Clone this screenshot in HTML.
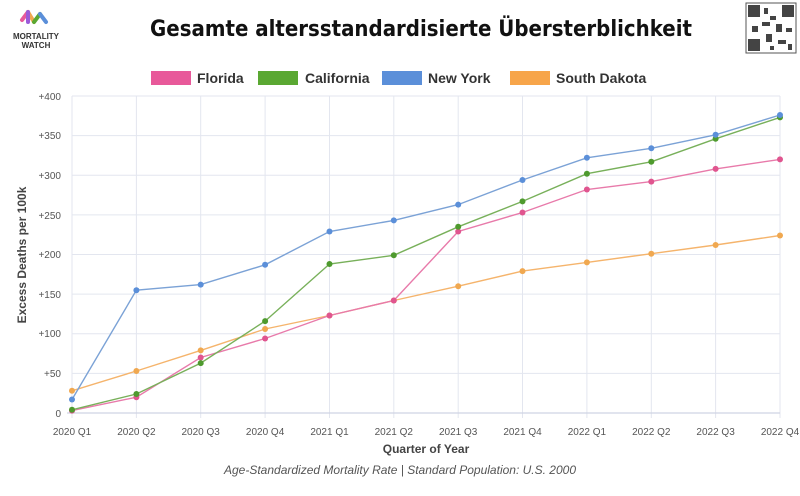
<!DOCTYPE html>
<html><head><meta charset="utf-8"><style>
body{margin:0;width:800px;height:491px;background:#fff;overflow:hidden;font-family:"Liberation Sans",sans-serif}
</style></head><body>
<svg width="800" height="491" xmlns="http://www.w3.org/2000/svg" font-family="Liberation Sans, sans-serif">
<rect width="800" height="491" fill="#fff"/>
<!-- logo -->
<g stroke-width="4" stroke-linecap="round" fill="none">
<path d="M22 20 L28 12" stroke="#e8599a"/><path d="M28 12 L34 22" stroke="#f0a850"/><path d="M34 22 L40 14" stroke="#5aa832"/><path d="M40 14 L46 22" stroke="#5b8fd9"/><path d="M28 12 L28 22" stroke="#9a5ad9"/>
</g>
<text x="36" y="39" font-size="8" font-weight="bold" text-anchor="middle" fill="#333">MORTALITY</text>
<text x="36" y="48" font-size="8" font-weight="bold" text-anchor="middle" fill="#333">WATCH</text>
<text x="421" y="36" font-size="22" font-weight="bold" text-anchor="middle" fill="#111" font-family="DejaVu Sans Condensed, Liberation Sans, sans-serif">Gesamte altersstandardisierte Übersterblichkeit</text>
<!-- QR -->
<rect x="746" y="3" width="50" height="50" fill="#fff" stroke="#555"/>
<g fill="#444"><rect x="748" y="5" width="12" height="12"/><rect x="782" y="5" width="12" height="12"/><rect x="748" y="39" width="12" height="12"/>
<rect x="764" y="8" width="4" height="6"/><rect x="770" y="16" width="6" height="4"/><rect x="762" y="22" width="8" height="4"/><rect x="776" y="24" width="6" height="8"/><rect x="752" y="26" width="6" height="6"/><rect x="786" y="28" width="6" height="4"/><rect x="766" y="34" width="6" height="8"/><rect x="778" y="40" width="8" height="4"/><rect x="788" y="44" width="4" height="6"/><rect x="770" y="46" width="4" height="4"/></g>
<!-- legend -->
<g font-size="14" font-weight="bold" fill="#333">
<rect x="151" y="71" width="40" height="14" fill="#e8599a"/><text x="197" y="83">Florida</text>
<rect x="258" y="71" width="40" height="14" fill="#5aa832"/><text x="305" y="83">California</text>
<rect x="382" y="71" width="40" height="14" fill="#5b8fd9"/><text x="428" y="83">New York</text>
<rect x="510" y="71" width="40" height="14" fill="#f7a54a"/><text x="556" y="83">South Dakota</text>
</g>
<!-- grid -->
<g stroke="#e3e6ef" stroke-width="1">
<line x1="72" x2="780" y1="96" y2="96"/><line x1="72" x2="780" y1="135.6" y2="135.6"/><line x1="72" x2="780" y1="175.3" y2="175.3"/><line x1="72" x2="780" y1="214.9" y2="214.9"/><line x1="72" x2="780" y1="254.5" y2="254.5"/><line x1="72" x2="780" y1="294.1" y2="294.1"/><line x1="72" x2="780" y1="333.8" y2="333.8"/><line x1="72" x2="780" y1="373.4" y2="373.4"/>
<line x1="72" x2="72" y1="96" y2="418"/><line x1="136.4" x2="136.4" y1="96" y2="418"/><line x1="200.7" x2="200.7" y1="96" y2="418"/><line x1="265.1" x2="265.1" y1="96" y2="418"/><line x1="329.5" x2="329.5" y1="96" y2="418"/><line x1="393.8" x2="393.8" y1="96" y2="418"/><line x1="458.2" x2="458.2" y1="96" y2="418"/><line x1="522.5" x2="522.5" y1="96" y2="418"/><line x1="586.9" x2="586.9" y1="96" y2="418"/><line x1="651.3" x2="651.3" y1="96" y2="418"/><line x1="715.6" x2="715.6" y1="96" y2="418"/><line x1="780" x2="780" y1="96" y2="418"/>
</g>
<line x1="67" x2="780" y1="413" y2="413" stroke="#cfd3e3" stroke-width="1.2"/>
<g font-size="10" fill="#555" text-anchor="end">
<text x="61" y="100">+400</text><text x="61" y="139">+350</text><text x="61" y="179">+300</text><text x="61" y="219">+250</text><text x="61" y="258">+200</text><text x="61" y="298">+150</text><text x="61" y="337">+100</text><text x="61" y="377">+50</text><text x="61" y="417">0</text>
</g>
<g font-size="10" fill="#555" text-anchor="middle">
<text x="72" y="435">2020 Q1</text><text x="136.4" y="435">2020 Q2</text><text x="200.7" y="435">2020 Q3</text><text x="265.1" y="435">2020 Q4</text><text x="329.5" y="435">2021 Q1</text><text x="393.8" y="435">2021 Q2</text><text x="458.2" y="435">2021 Q3</text><text x="522.5" y="435">2021 Q4</text><text x="586.9" y="435">2022 Q1</text><text x="651.3" y="435">2022 Q2</text><text x="715.6" y="435">2022 Q3</text><text x="780" y="435">2022 Q4</text>
</g>
<text x="426" y="453" font-size="12" font-weight="bold" fill="#444" text-anchor="middle">Quarter of Year</text>
<text x="26" y="255" font-size="12" font-weight="bold" fill="#444" text-anchor="middle" transform="rotate(-90 26 255)">Excess Deaths per 100k</text>
<text x="400" y="474" font-size="12" font-style="italic" fill="#555" text-anchor="middle">Age-Standardized Mortality Rate | Standard Population: U.S. 2000</text>
<!-- series -->
<g fill="none" stroke-width="1.4">
<polyline stroke="#f5b46c" points="72,390.8 136.4,371 200.7,350.4 265.1,329 329.5,315.5 393.8,300.5 458.2,286.2 522.5,271.1 586.9,262.4 651.3,253.7 715.6,245 780,235.5"/>
<polyline stroke="#e87aaa" points="72,410.6 136.4,397.2 200.7,357.5 265.1,338.5 329.5,315.5 393.8,300.5 458.2,231.5 522.5,212.5 586.9,189.5 651.3,181.6 715.6,168.9 780,159.4"/>
<polyline stroke="#78b05a" points="72,409.8 136.4,394 200.7,363.1 265.1,321.1 329.5,264 393.8,255.3 458.2,226.8 522.5,201.4 586.9,173.7 651.3,161.8 715.6,138.8 780,117.4"/>
<polyline stroke="#7ba2d6" points="72,399.5 136.4,290.2 200.7,284.6 265.1,264.8 329.5,231.5 393.8,220.4 458.2,204.6 522.5,180 586.9,157.8 651.3,148.3 715.6,134.8 780,115"/>
</g>
<g fill="#f0a850">
<circle cx="72" cy="390.8" r="3"/><circle cx="136.4" cy="371" r="3"/><circle cx="200.7" cy="350.4" r="3"/><circle cx="265.1" cy="329" r="3"/><circle cx="329.5" cy="315.5" r="3"/><circle cx="393.8" cy="300.5" r="3"/><circle cx="458.2" cy="286.2" r="3"/><circle cx="522.5" cy="271.1" r="3"/><circle cx="586.9" cy="262.4" r="3"/><circle cx="651.3" cy="253.7" r="3"/><circle cx="715.6" cy="245" r="3"/><circle cx="780" cy="235.5" r="3"/></g>
<g fill="#e0558f">
<circle cx="72" cy="410.6" r="3"/><circle cx="136.4" cy="397.2" r="3"/><circle cx="200.7" cy="357.5" r="3"/><circle cx="265.1" cy="338.5" r="3"/><circle cx="329.5" cy="315.5" r="3"/><circle cx="393.8" cy="300.5" r="3"/><circle cx="458.2" cy="231.5" r="3"/><circle cx="522.5" cy="212.5" r="3"/><circle cx="586.9" cy="189.5" r="3"/><circle cx="651.3" cy="181.6" r="3"/><circle cx="715.6" cy="168.9" r="3"/><circle cx="780" cy="159.4" r="3"/></g>
<g fill="#4e9a2e">
<circle cx="72" cy="409.8" r="3"/><circle cx="136.4" cy="394" r="3"/><circle cx="200.7" cy="363.1" r="3"/><circle cx="265.1" cy="321.1" r="3"/><circle cx="329.5" cy="264" r="3"/><circle cx="393.8" cy="255.3" r="3"/><circle cx="458.2" cy="226.8" r="3"/><circle cx="522.5" cy="201.4" r="3"/><circle cx="586.9" cy="173.7" r="3"/><circle cx="651.3" cy="161.8" r="3"/><circle cx="715.6" cy="138.8" r="3"/><circle cx="780" cy="117.4" r="3"/></g>
<g fill="#5b8fd9">
<circle cx="72" cy="399.5" r="3"/><circle cx="136.4" cy="290.2" r="3"/><circle cx="200.7" cy="284.6" r="3"/><circle cx="265.1" cy="264.8" r="3"/><circle cx="329.5" cy="231.5" r="3"/><circle cx="393.8" cy="220.4" r="3"/><circle cx="458.2" cy="204.6" r="3"/><circle cx="522.5" cy="180" r="3"/><circle cx="586.9" cy="157.8" r="3"/><circle cx="651.3" cy="148.3" r="3"/><circle cx="715.6" cy="134.8" r="3"/><circle cx="780" cy="115" r="3"/></g>
</svg>
</body></html>
